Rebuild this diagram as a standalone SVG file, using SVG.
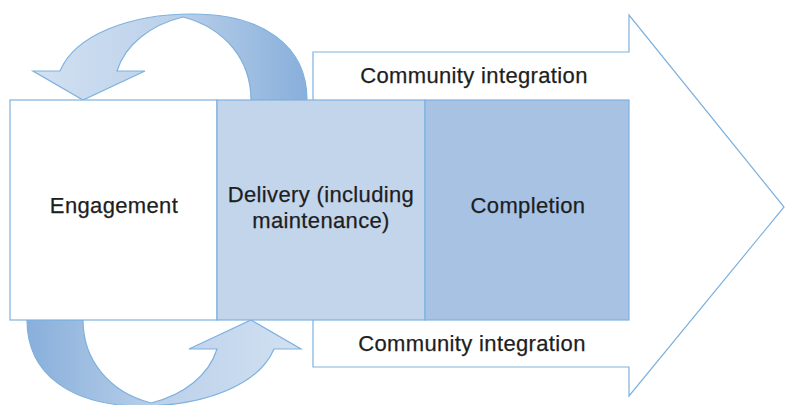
<svg xmlns="http://www.w3.org/2000/svg" width="785" height="405" viewBox="0 0 785 405">
  <defs>
    <linearGradient id="cyc" gradientUnits="userSpaceOnUse" x1="33" y1="0" x2="307" y2="0">
      <stop offset="0" stop-color="#d2e1f2"/>
      <stop offset="0.5" stop-color="#bcd1ea"/>
      <stop offset="1" stop-color="#88afdb"/>
    </linearGradient>
    <path id="curl" d="M307,100 C307,45 262,14 192,14 C130,14 75,35 60,71 L33,71 L83,100 L145,71 L117,71 C125,45 150,25 183,17 C225,28 251,60 251,100 Z"/>
  </defs>
  <style>
    .ln{stroke:#7eb1de;stroke-width:1.2;stroke-linejoin:miter}
    .t{font-family:"Liberation Sans",Arial,Helvetica,sans-serif;font-size:22px;letter-spacing:0.35px;fill:#1e1e1e;stroke:#1e1e1e;stroke-width:0.25;text-anchor:middle}
  </style>
  <rect width="785" height="405" fill="#ffffff"/>
  <g id="connectors">
    <g id="big-arrow">
      <path class="ln" fill="#ffffff" d="M313,52 L629,52 L629,15 L784,207 L629,396 L629,367 L313,367 Z"/>
      <text class="t" x="474" y="83">Community integration</text>
      <text class="t" x="472" y="351">Community integration</text>
    </g>
    <use id="cycle-top" href="#curl" class="ln" fill="url(#cyc)"/>
    <use id="cycle-bottom" href="#curl" class="ln" fill="url(#cyc)" transform="rotate(180 167 210)"/>
  </g>
  <g id="engagement">
    <rect class="ln" x="10" y="100" width="207" height="220" fill="#ffffff"/>
    <text class="t" x="114" y="213">Engagement</text>
  </g>
  <g id="delivery">
    <rect class="ln" x="217" y="100" width="208" height="220" fill="#c3d5eb"/>
    <text class="t" x="321" y="202">Delivery (including</text>
    <text class="t" x="321" y="228">maintenance)</text>
  </g>
  <g id="completion">
    <rect class="ln" x="425" y="100" width="204" height="220" fill="#a7c2e3"/>
    <text class="t" x="528" y="213">Completion</text>
  </g>
</svg>
